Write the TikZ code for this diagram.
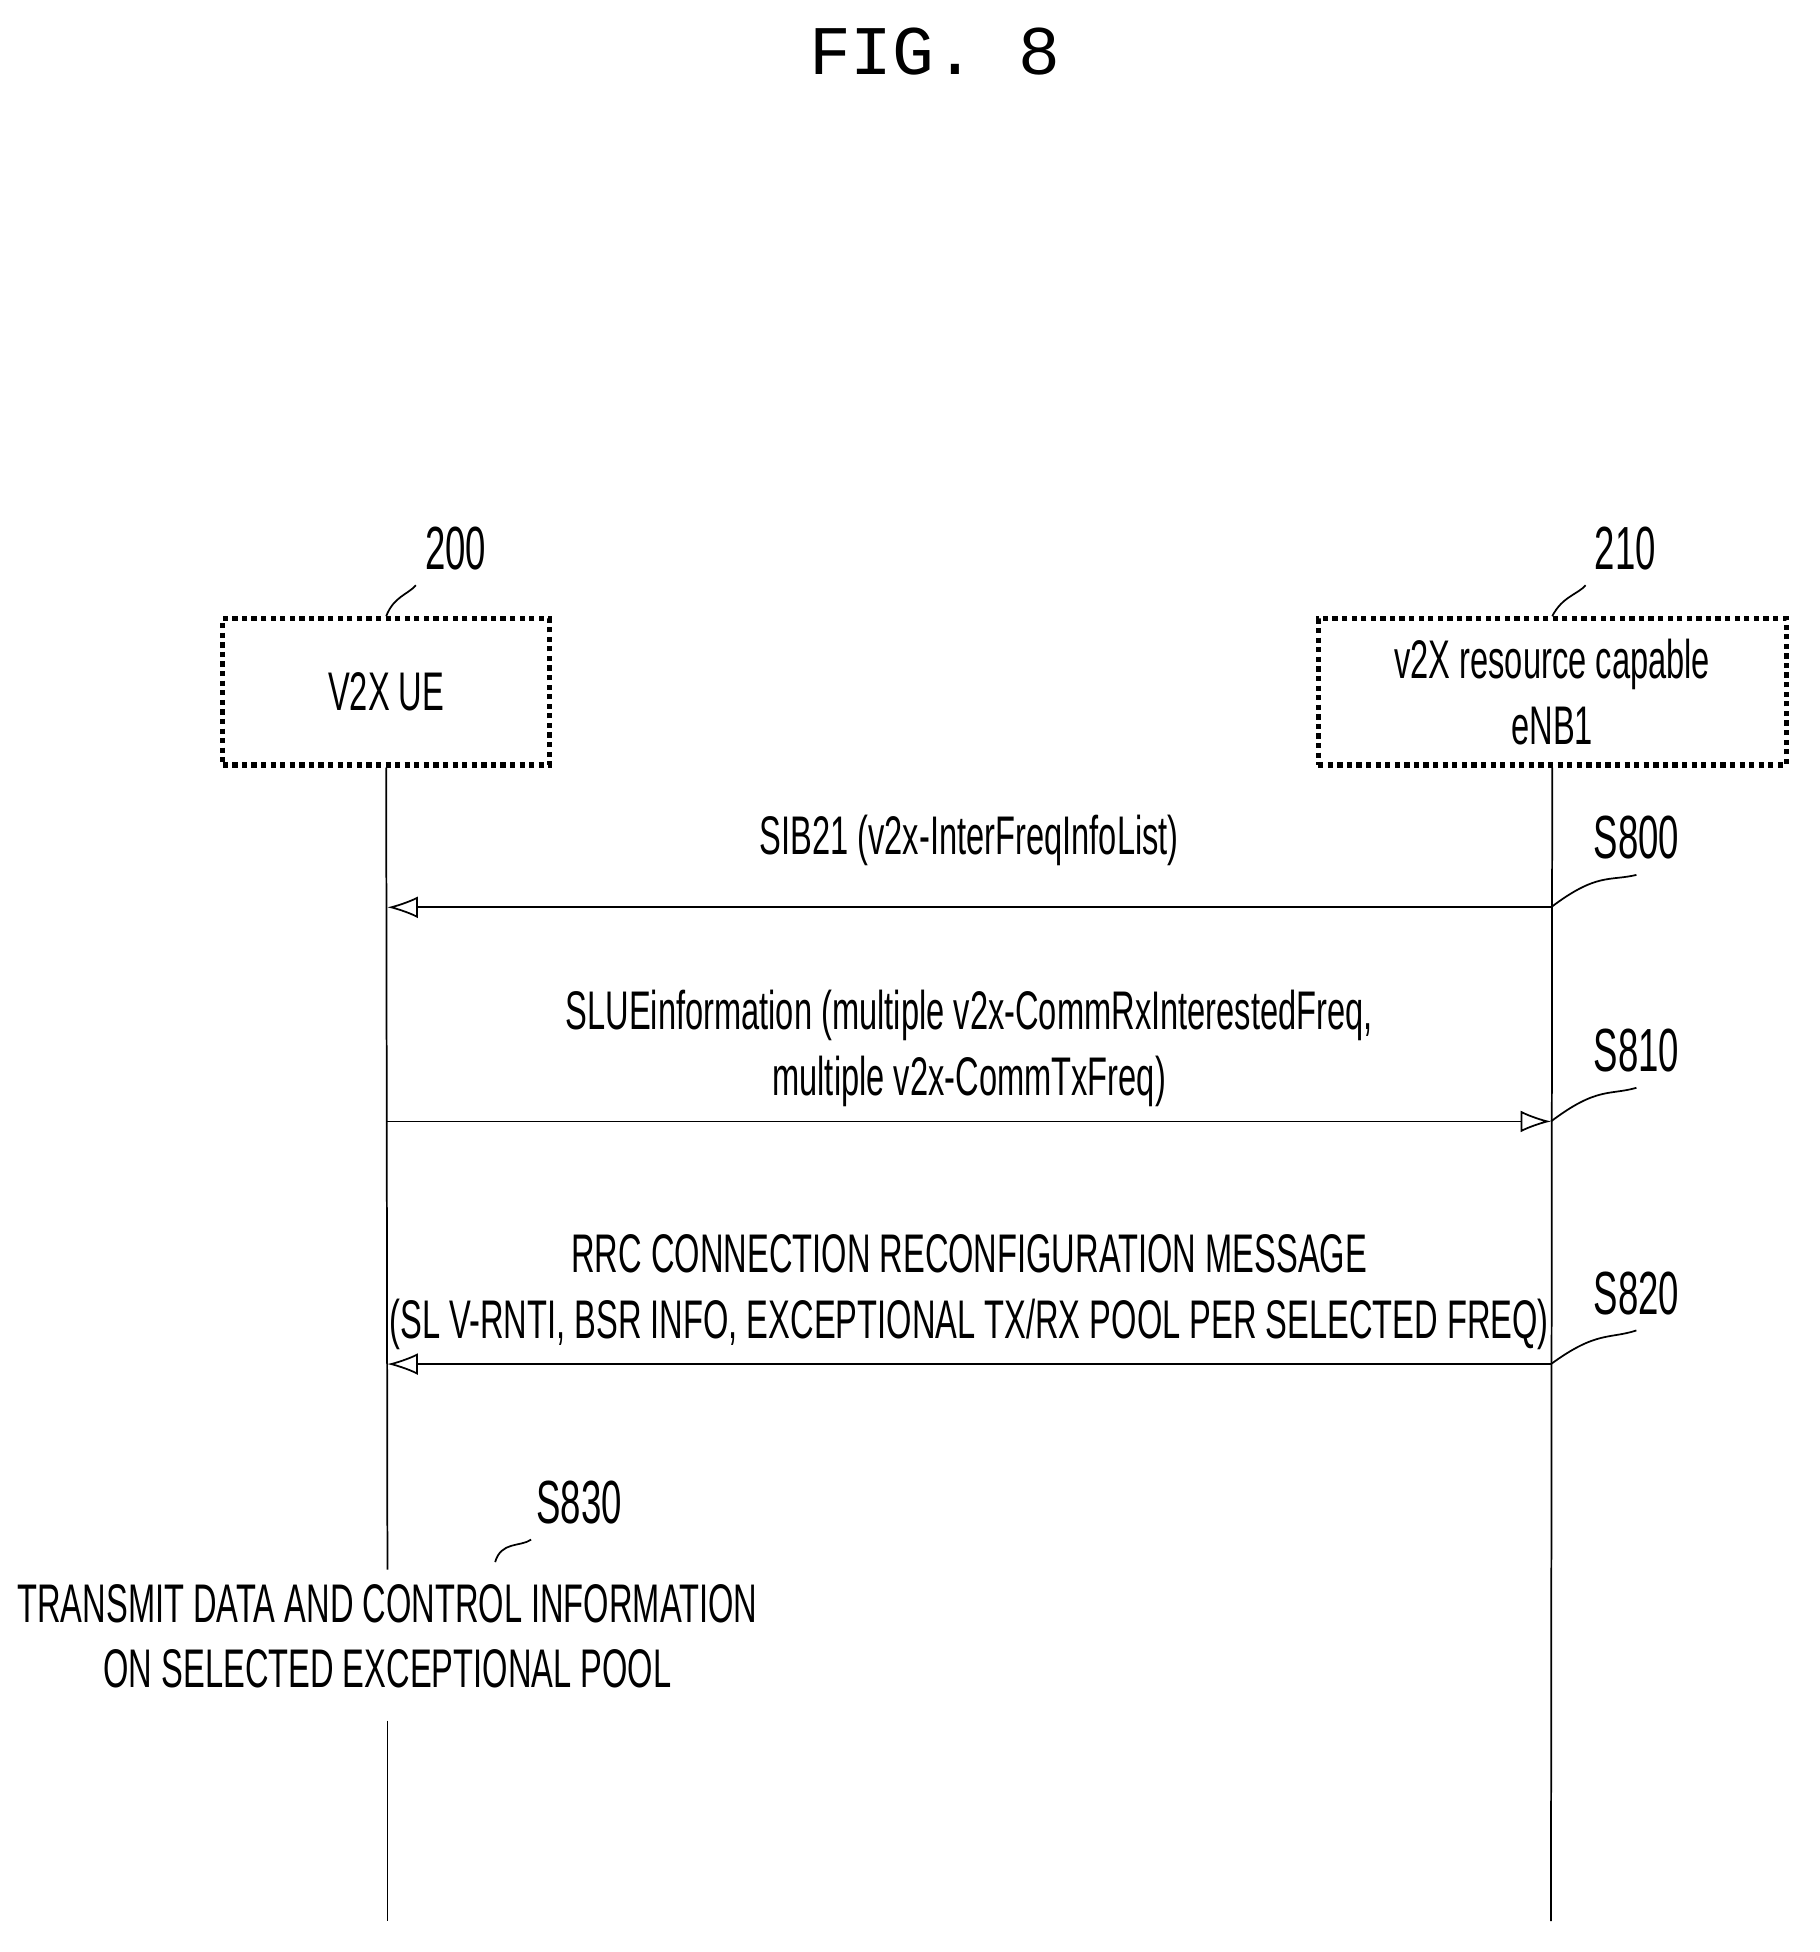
\documentclass[tikz,border=0pt]{standalone}
\usepackage{fontspec}
\setmainfont{Liberation Sans}[FakeStretch=0.6]
\newfontfamily\figfont{Liberation Mono}
\usetikzlibrary{arrows.meta, positioning}

\begin{document}
\begin{tikzpicture}[x=0.01cm, y=-0.01cm,
    font=\fontsize{12.5}{15}\selectfont,
    entity/.style={draw, densely dotted, very thick, minimum width=2.64cm, minimum height=1.18cm, align=center},
    msg/.style={-{Latex[open, length=7pt, width=5pt]}, thin},
    lead/.style={thin}]
  \useasboundingbox (0,0) rectangle (1470,1577);

  % --- title ---
  \node[font=\figfont\fontsize{16}{19}\selectfont] (title) at (755,42) {FIG. 8};

  % --- entities ---
  \node[entity] (ue) at (312,559) {V2X UE};
  \node[entity, minimum width=3.78cm] (enb) at (1254,559) {v2X resource capable\\eNB1};
  \node (n200) at (368,443) {\fontsize{14}{16}\selectfont 200};
  \node (n210) at (1313,443) {\fontsize{14}{16}\selectfont 210};
  \draw[lead] (n200.south west) ++(5,0) .. controls (330,480) and (318,482) .. (ue.north);
  \draw[lead] (n210.south west) ++(5,0) .. controls (1275,480) and (1262,482) .. (enb.north);

  % --- lifelines ---
  \coordinate (ueA) at (313,1102);
  \coordinate (ueB) at (313,1268);
  \coordinate (ueC) at (313,1390);
  \coordinate (ueEnd) at (313,1552);
  \coordinate (enbEnd) at (1253,1552);
  \draw[thin] (ue.south) -- (ueB);
  \draw[thin] (ueC) -- (ueEnd);
  \draw[thin] (enb.south) -- (enbEnd);

  % --- S800 ---
  \coordinate (e800) at (1253,733);
  \coordinate (u800) at (313,733);
  \draw[msg] (e800) -- node[above=6pt] {SIB21 (v2x-InterFreqInfoList)} (u800);
  \node (s800) at (1322,677) {\fontsize{14}{16}\selectfont S800};
  \draw[lead] (s800.south) .. controls (1300,712) and (1290,705) .. (e800);

  % --- S810 ---
  \coordinate (u810) at (313,906);
  \coordinate (e810) at (1253,906);
  \draw[msg] (u810) -- (e810);
  \node[align=center] (t810) at (783,847) {SLUEinformation (multiple v2x-CommRxInterestedFreq,\\multiple v2x-CommTxFreq)};
  \node (s810) at (1322,849) {\fontsize{14}{16}\selectfont S810};
  \draw[lead] (s810.south) .. controls (1300,885) and (1290,878) .. (e810);

  % --- S820 ---
  \coordinate (e820) at (1253,1102);
  \draw[msg] (e820) -- (ueA);
  \node[align=center] (t820) at (783,1044) {RRC CONNECTION RECONFIGURATION MESSAGE\\(SL V-RNTI, BSR INFO, EXCEPTIONAL TX/RX POOL PER SELECTED FREQ)};
  \node (s820) at (1322,1045) {\fontsize{14}{16}\selectfont S820};
  \draw[lead] (s820.south) .. controls (1300,1082) and (1290,1075) .. (e820);

  % --- S830 ---
  \node[align=center] (t830) at (313,1322) {TRANSMIT DATA AND CONTROL INFORMATION\\ON SELECTED EXCEPTIONAL POOL};
  \node (s830) at (468,1214) {\fontsize{14}{16}\selectfont S830};
  \draw[lead] (s830.south west) ++(8,0) .. controls (420,1250) and (405,1245) .. (400,1262);
\end{tikzpicture}
\end{document}
